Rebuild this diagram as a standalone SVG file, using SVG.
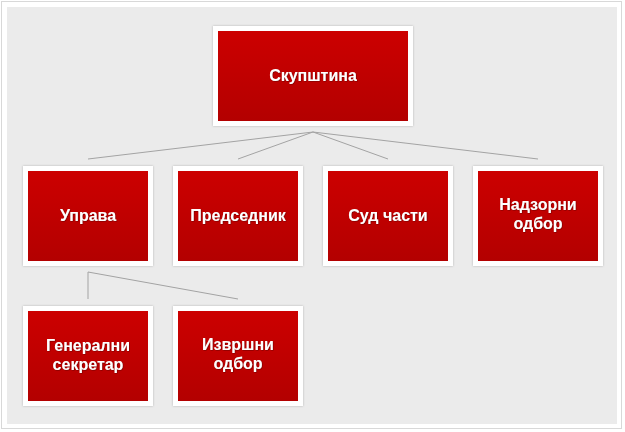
<svg xmlns="http://www.w3.org/2000/svg" width="625" height="432" viewBox="0 0 625 432">
<defs>
<linearGradient id="red" x1="0" y1="0" x2="0" y2="1">
<stop offset="0" stop-color="#cc0000"/>
<stop offset="1" stop-color="#b30000"/>
</linearGradient>
<filter id="sh" x="-10%" y="-10%" width="120%" height="120%">
<feDropShadow dx="0" dy="0" stdDeviation="1.2" flood-color="#000" flood-opacity="0.25"/>
</filter>
<filter id="tsh" x="-10%" y="-20%" width="120%" height="140%">
<feDropShadow dx="0.6" dy="0.6" stdDeviation="0.4" flood-color="#600" flood-opacity="0.8"/>
</filter>
</defs>
<style>
.frame{fill:#ffffff;filter:url(#sh)}
.box{fill:url(#red)}
.lbl{font-family:"Liberation Sans",Arial,sans-serif;font-size:16px;font-weight:bold;fill:#ffffff;text-anchor:middle;filter:url(#tsh)}
.con{stroke:#a3a3a3;stroke-width:1;fill:none}
</style>
<rect x="0" y="0" width="625" height="432" fill="#ffffff"/>
<rect x="1.5" y="1.5" width="620" height="427" fill="#ffffff" stroke="#d8d8d8" stroke-width="1"/>
<rect x="7" y="7" width="610" height="417" fill="#ebebeb"/>
<g id="connectors">
<polyline class="con" points="88,159 313,132 538,159"/>
<polyline class="con" points="238,159 313,132 388,159"/>
<polyline class="con" points="88,299 88,272 238,299"/>
</g>
<g id="n-skupstina">
<rect class="frame" x="213" y="26" width="200" height="100"/>
<rect class="box" x="218" y="31" width="190" height="90"/>
<text class="lbl" x="313" y="81">Скупштина</text>
</g>
<g id="n-uprava">
<rect class="frame" x="23" y="166" width="130" height="100"/>
<rect class="box" x="28" y="171" width="120" height="90"/>
<text class="lbl" x="88" y="221">Управа</text>
</g>
<g id="n-predsednik">
<rect class="frame" x="173" y="166" width="130" height="100"/>
<rect class="box" x="178" y="171" width="120" height="90"/>
<text class="lbl" x="238" y="221">Председник</text>
</g>
<g id="n-sud">
<rect class="frame" x="323" y="166" width="130" height="100"/>
<rect class="box" x="328" y="171" width="120" height="90"/>
<text class="lbl" x="388" y="221">Суд части</text>
</g>
<g id="n-nadzorni">
<rect class="frame" x="473" y="166" width="130" height="100"/>
<rect class="box" x="478" y="171" width="120" height="90"/>
<text class="lbl" x="538" y="210">Надзорни</text>
<text class="lbl" x="538" y="229">одбор</text>
</g>
<g id="n-generalni">
<rect class="frame" x="23" y="306" width="130" height="100"/>
<rect class="box" x="28" y="311" width="120" height="90"/>
<text class="lbl" x="88" y="351">Генерални</text>
<text class="lbl" x="88" y="370">секретар</text>
</g>
<g id="n-izvrsni">
<rect class="frame" x="173" y="306" width="130" height="100"/>
<rect class="box" x="178" y="311" width="120" height="90"/>
<text class="lbl" x="238" y="350">Извршни</text>
<text class="lbl" x="238" y="369">одбор</text>
</g>
</svg>
